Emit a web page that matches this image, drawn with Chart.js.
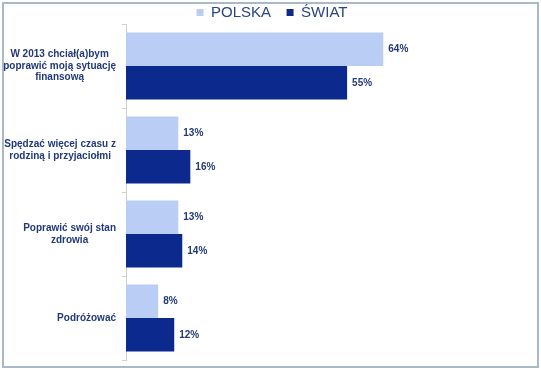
<!DOCTYPE html>
<html>
<head>
<meta charset="utf-8">
<script src="https://cdn.jsdelivr.net/npm/chart.js@4"></script>
<style>
  html, body { margin: 0; padding: 0; background: #fff; }
  #wrap { position: absolute; left: 0; top: 0; width: 541px; height: 370px; }
  #barChart { display: block; }
  #frame { position: absolute; left: 2px; top: 2px; width: 533px; height: 362px; border: 2px solid #a9b9c9; pointer-events: none; }
</style>
</head>
<body>
<div id="wrap">
  <canvas id="barChart" width="541" height="370"></canvas>
  <div id="frame"></div>
</div>
<script>
// Data
const categories = [
  ['W 2013 chciał(a)bym', 'poprawić moją sytuację', 'finansową'],
  ['Spędzać więcej czasu z', 'rodziną i przyjaciołmi'],
  ['Poprawić swój stan', 'zdrowia'],
  ['Podróżować']
];
const polska = [64, 13, 13, 8];
const swiat = [55, 16, 14, 12];

const textColor = '#22397a';
const fontFamily = '"Liberation Sans", Arial, sans-serif';

// value labels at the end of each bar
const valueLabels = {
  id: 'valueLabels',
  afterDatasetsDraw(chart) {
    const ctx = chart.ctx;
    ctx.save();
    ctx.font = 'bold 10px ' + fontFamily;
    ctx.fillStyle = textColor;
    ctx.textBaseline = 'middle';
    chart.data.datasets.forEach((ds, i) => {
      chart.getDatasetMeta(i).data.forEach((bar, j) => {
        ctx.fillText(ds.data[j] + '%', bar.x + 5, bar.y);
      });
    });
    ctx.restore();
  }
};

// category labels: block right-aligned to the axis, lines centred inside the block
const categoryLabels = {
  id: 'categoryLabels',
  afterDraw(chart) {
    const ctx = chart.ctx;
    const yScale = chart.scales.y;
    const lineH = 11.5;
    ctx.save();
    ctx.font = 'bold 10px ' + fontFamily;
    ctx.fillStyle = textColor;
    ctx.textAlign = 'center';
    ctx.textBaseline = 'middle';
    chart.data.labels.forEach((lines, i) => {
      const w = Math.max(...lines.map(l => ctx.measureText(l).width));
      const cx = yScale.right - 10 - w / 2;
      const cy = yScale.getPixelForTick(i);
      const y0 = cy - (lines.length - 1) * lineH / 2;
      lines.forEach((l, k) => ctx.fillText(l, cx, y0 + k * lineH));
    });
    ctx.restore();
  }
};

// tighter legend box, nudged right like the original
const legendTweak = {
  id: 'legendTweak',
  beforeInit(chart) {
    const origFit = chart.legend.fit;
    chart.legend.fit = function () {
      origFit.call(this);
      this.height = 22;
    };
  },
  afterLayout(chart) {
    chart.legend.left += 8;
    chart.legend.right += 8;
  }
};

const barCtx = document.getElementById('barChart').getContext('2d');
const barChart = new Chart(barCtx, {
  type: 'bar',
  data: {
    labels: categories,
    datasets: [{
      label: 'POLSKA',
      data: polska,
      backgroundColor: '#b9cdf5',
      categoryPercentage: 0.8,
      barPercentage: 1.0
    }, {
      label: 'ŚWIAT',
      data: swiat,
      backgroundColor: '#0c2a8e',
      categoryPercentage: 0.8,
      barPercentage: 1.0
    }]
  },
  plugins: [valueLabels, categoryLabels, legendTweak],
  options: {
    indexAxis: 'y',
    responsive: false,
    animation: false,
    layout: {
      padding: { left: 0, right: 13, top: 2, bottom: 10 }
    },
    plugins: {
      legend: {
        position: 'top',
        labels: {
          boxWidth: 7,
          boxHeight: 7,
          padding: 3,
          color: '#2a4582',
          font: { family: fontFamily, size: 15 },
          generateLabels(chart) {
            const items = Chart.defaults.plugins.legend.labels.generateLabels(chart);
            items[0].text = items[0].text + '   ';
            return items;
          }
        }
      },
      tooltip: { enabled: false }
    },
    scales: {
      x: {
        display: false,
        min: 0,
        max: 100
      },
      y: {
        afterFit(scale) { scale.width = 126; },
        border: { color: '#d0d0d0' },
        grid: {
          drawOnChartArea: false,
          tickLength: 4,
          color: '#d0d0d0'
        },
        ticks: { display: false }
      }
    }
  }
});
</script>
</body>
</html>
